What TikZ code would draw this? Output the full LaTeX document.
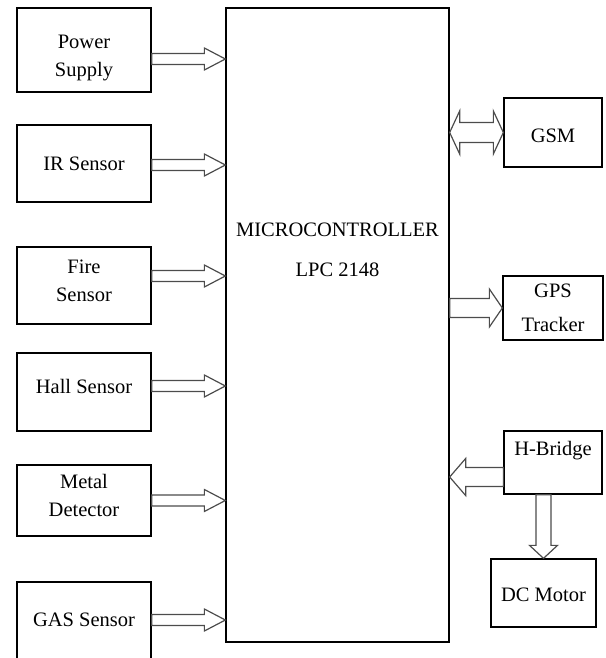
\documentclass[tikz,border=0pt]{standalone}
\usepackage{fontspec}
\setmainfont{Liberation Serif}
\usetikzlibrary{calc}

\begin{document}
\begin{tikzpicture}[
    x=1pt, y=-1pt,
    box/.style={rectangle, draw, line width=1.3pt, align=center, inner sep=2pt, font=\fontsize{20.5}{28}\selectfont},
    lbox/.style={box, minimum width=134pt},
    txt/.style={align=center, font=\fontsize{20.5}{28}\selectfont},
    blk/.style args={#1/#2/#3}{draw=black!70, line width=1.2pt, to path={
        ($(\tikztostart)!#1!90:(\tikztotarget)$)
        -- ($(\tikztotarget)!#3!(\tikztostart)!#1!-90:(\tikztostart)$)
        -- ($(\tikztotarget)!#3!(\tikztostart)!#2!-90:(\tikztostart)$)
        -- (\tikztotarget)
        -- ($(\tikztotarget)!#3!(\tikztostart)!#2!90:(\tikztostart)$)
        -- ($(\tikztotarget)!#3!(\tikztostart)!#1!90:(\tikztostart)$)
        -- ($(\tikztostart)!#1!-90:(\tikztotarget)$) -- cycle}},
    dblk/.style args={#1/#2/#3}{draw=black!70, line width=1.2pt, to path={
        (\tikztostart)
        -- ($(\tikztostart)!#3!(\tikztotarget)!#2!90:(\tikztotarget)$)
        -- ($(\tikztostart)!#3!(\tikztotarget)!#1!90:(\tikztotarget)$)
        -- ($(\tikztotarget)!#3!(\tikztostart)!#1!-90:(\tikztostart)$)
        -- ($(\tikztotarget)!#3!(\tikztostart)!#2!-90:(\tikztostart)$)
        -- (\tikztotarget)
        -- ($(\tikztotarget)!#3!(\tikztostart)!#2!90:(\tikztostart)$)
        -- ($(\tikztotarget)!#3!(\tikztostart)!#1!90:(\tikztostart)$)
        -- ($(\tikztostart)!#3!(\tikztotarget)!#1!-90:(\tikztotarget)$)
        -- ($(\tikztostart)!#3!(\tikztotarget)!#2!-90:(\tikztotarget)$) -- cycle}}
]
    \useasboundingbox (0,0) rectangle (605,658);

    % controller
    \node[box, minimum width=223pt, minimum height=634pt] (mcu) at (337.5,325) {};
    \node[txt] (mcutxt) at (337.5,250) {MICROCONTROLLER\\[12pt]LPC 2148};

    % inputs
    \node[lbox, minimum height=84pt, text height=57.4pt] (ps) at (84,50) {Power\\Supply};
    \node[lbox, minimum height=77pt]                    (ir)    at (84,163.5) {IR Sensor};
    \node[lbox, minimum height=77pt, text depth=10pt]   (fire)  at (84,285.5) {Fire\\Sensor};
    \node[lbox, minimum height=78pt, text depth=12pt]   (hall)  at (84,392)   {Hall Sensor};
    \node[lbox, minimum height=71pt, text depth=10pt]   (metal) at (84,500.5) {Metal\\Detector};
    \node[lbox, minimum height=88pt, text depth=12pt]   (gas)   at (84,626)   {GAS Sensor};

    % outputs
    \node[box, minimum width=98pt,  minimum height=69pt, text height=19.4pt] (gsm) at (553,132.5) {GSM};
    \node[box, minimum width=100pt, minimum height=64pt] (gps) at (553,308)   {GPS\\[6pt]Tracker};
    \node[box, minimum width=98pt,  minimum height=63pt] (hb)  at (553,462.5) {H-Bridge\\\mbox{}};
    \node[box, minimum width=105pt, minimum height=68pt, text height=17.4pt] (dc) at (543.5,593) {DC Motor};

    \coordinate (psout)    at ([yshift=-9pt]ps.east);
    \coordinate (irout)    at ([yshift=-1.5pt]ir.east);
    \coordinate (fireout)  at ([yshift=9.5pt]fire.east);
    \coordinate (hallout)  at ([yshift=6pt]hall.east);
    \coordinate (metalout) at (metal.east);
    \coordinate (gasout)   at ([yshift=6pt]gas.east);
    \coordinate (hbout)    at ([yshift=-14.5pt]hb.west);

    \draw[blk=5.5pt/11pt/21pt] (psout)    to (psout -| mcu.west);
    \draw[blk=5.5pt/11pt/21pt] (irout)    to (irout -| mcu.west);
    \draw[blk=5.5pt/11pt/21pt] (fireout)  to (fireout -| mcu.west);
    \draw[blk=5.5pt/11pt/21pt] (hallout)  to (hallout -| mcu.west);
    \draw[blk=5.5pt/11pt/21pt] (metalout) to (metalout -| mcu.west);
    \draw[blk=5.5pt/11pt/21pt] (gasout)   to (gasout -| mcu.west);

    \draw[dblk=10pt/21.5pt/10pt] (gsm.west -| mcu.east) to (gsm.west);
    \draw[blk=9.5pt/19pt/13pt]   (gps.west -| mcu.east) to (gps.west);
    \draw[blk=9.5pt/18.5pt/16pt] (hbout) to (hbout -| mcu.east);
    \draw[blk=7.5pt/14pt/13pt]   (dc.north |- hb.south) to (dc.north);
\end{tikzpicture}
\end{document}
